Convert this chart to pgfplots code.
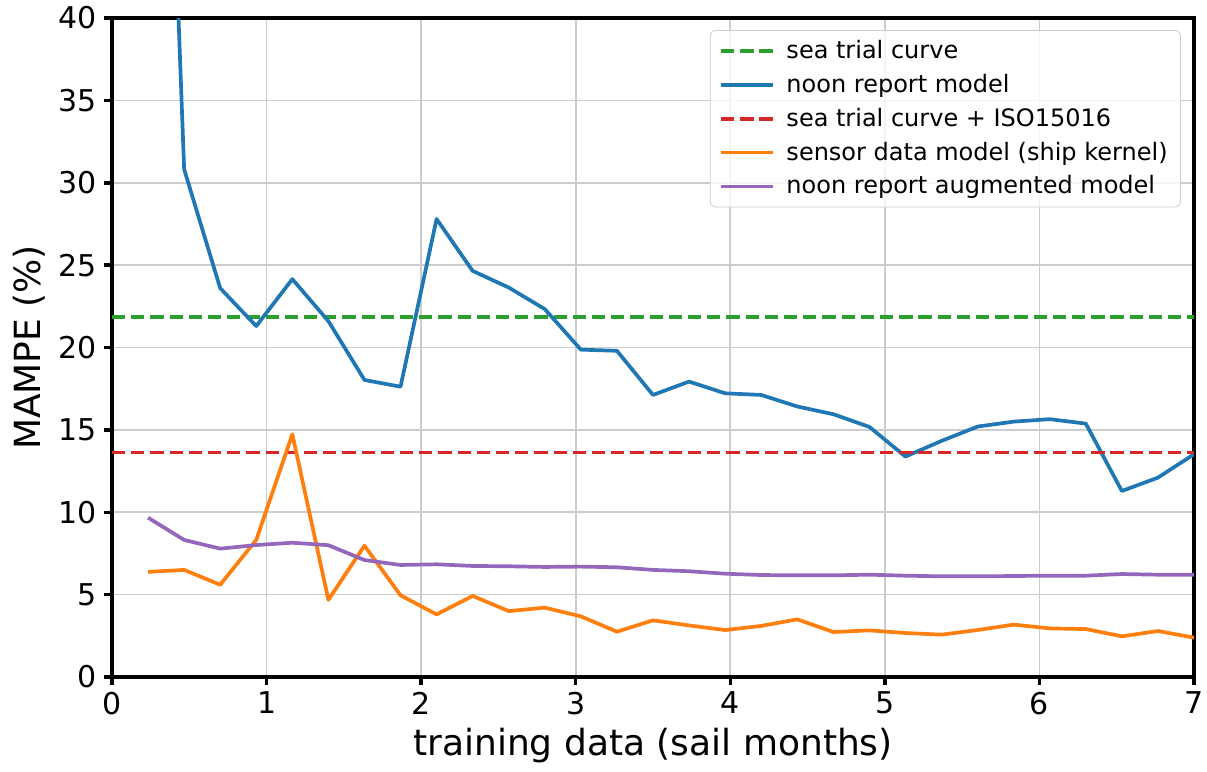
\documentclass[border=0pt]{standalone}
\usepackage{fontspec}
\setmainfont{DejaVu Sans}
\usepackage{pgfplots}
\pgfplotsset{compat=1.18}
\definecolor{tabblue}{HTML}{1F77B4}
\definecolor{taborange}{HTML}{FF7F0E}
\definecolor{tabgreen}{HTML}{2CA02C}
\definecolor{tabred}{HTML}{D62728}
\definecolor{tabpurple}{HTML}{9467BD}
\begin{document}
\begin{tikzpicture}
\useasboundingbox (-56pt,-47.5pt) rectangle (547.5pt,338.5pt);
\begin{axis}[
  scale only axis, width=541pt, height=329.5pt,
  xmin=0, xmax=7, ymin=0, ymax=40,
  xtick={0,1,2,3,4,5,6,7}, ytick={0,5,10,15,20,25,30,35,40},
  grid=major, grid style={color=black!20, line width=0.8pt},
  axis line style={line width=1.75pt},
  tick style={line width=1.75pt, black}, major tick length=4pt, tick align=outside,
  xtick pos=bottom, ytick pos=left,
  ticklabel style={font=\fontsize{15}{18}\selectfont},
  /pgf/number format/assume math mode=true,
  xlabel={training data (sail months)}, ylabel={MAMPE (\%)},
  label style={font=\fontsize{18}{21}\selectfont},
  clip=true,
  legend cell align=left,
  legend style={at={(rel axis cs:1,1)}, xshift=-6.5pt, yshift=-6pt, anchor=north east,
    draw=black!20, fill=white, fill opacity=0.8, text opacity=1, rounded corners=3pt,
    font=\fontsize{12}{14}\selectfont, row sep=2.3pt, inner xsep=4.5pt, inner ysep=3pt,
    /tikz/every odd column/.append style={column sep=4pt}},
  legend image code/.code={\draw[#1] (0pt,0pt) -- (25.8pt,0pt);},
  every axis plot/.append style={line width=1.85pt},
]
\addplot[tabgreen, dash pattern=on 6.65pt off 2.95pt] coordinates {(0,21.86) (7,21.86)};
\addlegendentry{sea trial curve}
\addplot[tabblue, line join=round] coordinates {
(0.2333,89.8) (0.4667,30.82) (0.7,23.6) (0.9333,21.3) (1.1667,24.15) (1.4,21.6)
(1.6333,18.03) (1.8667,17.62) (2.1,27.8) (2.3333,24.65) (2.5667,23.64) (2.8,22.33)
(3.0333,19.87) (3.2667,19.8) (3.5,17.12) (3.7333,17.93) (3.9667,17.22) (4.2,17.12)
(4.4333,16.42) (4.6667,15.95) (4.9,15.18) (5.1333,13.38) (5.3667,14.33) (5.6,15.2)
(5.8333,15.5) (6.0667,15.65) (6.3,15.38) (6.5333,11.29) (6.7667,12.1) (7.0,13.52)};
\addlegendentry{noon report model}
\addplot[tabred, dash pattern=on 6.65pt off 2.95pt] coordinates {(0,13.62) (7,13.62)};
\addlegendentry{sea trial curve + ISO15016}
\addplot[taborange, line join=round] coordinates {
(0.2333,6.38) (0.4667,6.5) (0.7,5.6) (0.9333,8.32) (1.1667,14.73) (1.4,4.68)
(1.6333,7.97) (1.8667,4.96) (2.1,3.8) (2.3333,4.92) (2.5667,4.0) (2.8,4.21)
(3.0333,3.68) (3.2667,2.75) (3.5,3.44) (3.7333,3.13) (3.9667,2.85) (4.2,3.1)
(4.4333,3.5) (4.6667,2.73) (4.9,2.83) (5.1333,2.67) (5.3667,2.57) (5.6,2.85)
(5.8333,3.18) (6.0667,2.95) (6.3,2.91) (6.5333,2.47) (6.7667,2.79) (7.0,2.39)};
\addlegendentry{sensor data model (ship kernel)}
\addplot[tabpurple, line join=round] coordinates {
(0.2333,9.67) (0.4667,8.32) (0.7,7.79) (0.9333,8.01) (1.1667,8.15) (1.4,8.0)
(1.6333,7.1) (1.8667,6.8) (2.1,6.84) (2.3333,6.74) (2.5667,6.72) (2.8,6.68)
(3.0333,6.7) (3.2667,6.66) (3.5,6.5) (3.7333,6.42) (3.9667,6.27) (4.2,6.19)
(4.4333,6.17) (4.6667,6.17) (4.9,6.21) (5.1333,6.15) (5.3667,6.11) (5.6,6.11)
(5.8333,6.13) (6.0667,6.15) (6.3,6.15) (6.5333,6.25) (6.7667,6.21) (7.0,6.21)};
\addlegendentry{noon report augmented model}
\end{axis}
\end{tikzpicture}
\end{document}
